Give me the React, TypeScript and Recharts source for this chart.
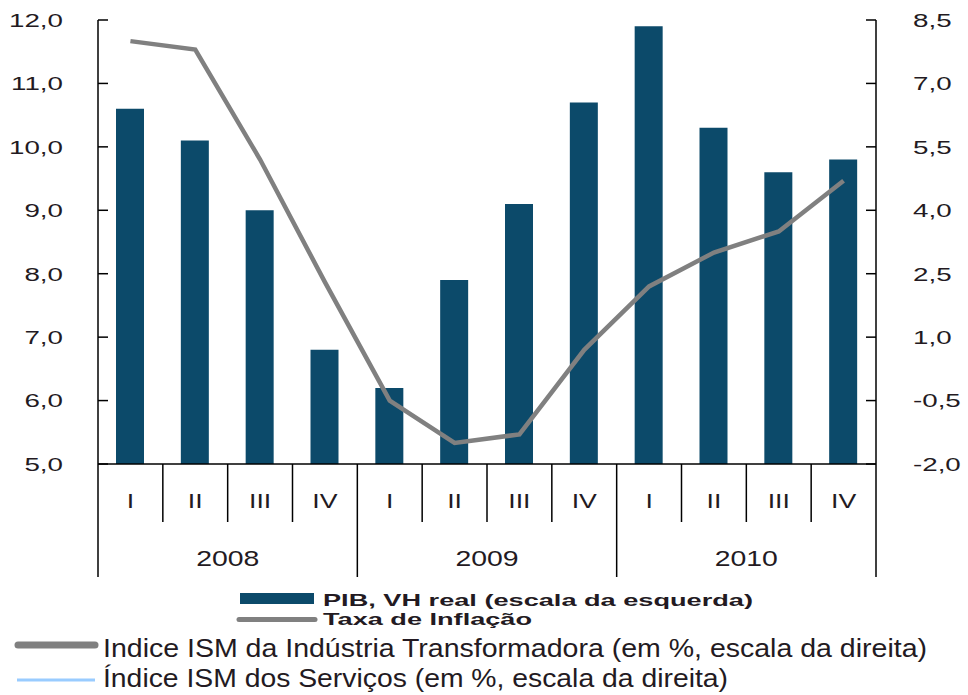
import React from 'react'
import {ComposedChart, Bar, Line, XAxis, YAxis, Legend} from 'recharts'

const quarters = ['I', 'II', 'III', 'IV', 'I', 'II', 'III', 'IV', 'I', 'II', 'III', 'IV']
const years = ['2008', '2009', '2010']
const pib = [10.6, 10.1, 9.0, 6.8, 6.2, 7.9, 9.1, 10.7, 11.9, 10.3, 9.6, 9.8]
const inflacao = [8.0, 7.8, 5.2, 2.3, -0.5, -1.5, -1.3, 0.7, 2.2, 3.0, 3.5, 4.7]
const leftTicks = [5, 6, 7, 8, 9, 10, 11, 12]
const rightTicks = [-2, -0.5, 1, 2.5, 4, 5.5, 7, 8.5]
const legendLabels = [
  'PIB, VH real (escala da esquerda)',
  'Taxa de Inflação',
  'Indice ISM da Indústria Transformadora (em %, escala da direita)',
  'Índice ISM dos Serviços (em %, escala da direita)',
]

const data = quarters.map((q, i) => ({
  key: years[Math.floor(i / 4)] + '-' + q,
  pib: pib[i],
  infl: inflacao[i],
}))

const W = 968
const H = 695
const LEFT_W = 98
const RIGHT_W = 92
const STEP = (W - LEFT_W - RIGHT_W) / quarters.length
const TEXT = '#231a22'
const BAR = '#0c4a6a'
const GREY = '#808080'
const FONT = '"Liberation Sans", Arial, sans-serif'
const NARROW = '"Liberation Sans Narrow", ' + FONT

const fmt = (v: number) => v.toFixed(1).replace('.', ',')

const LeftTick = (p: any) => (
  <g>
    <line x1={p.x} x2={p.x + 10} y1={p.y} y2={p.y} stroke="#000" strokeWidth={1.5} />
    <text transform={`translate(${p.x - 35},${p.y}) scale(1.46,1)`} textAnchor="end" dominantBaseline="central"
      fontSize={19} fontFamily={FONT} fill={TEXT}>{fmt(p.payload.value)}</text>
  </g>
)

const RightTick = (p: any) => (
  <g>
    <line x1={p.x - 10} x2={p.x} y1={p.y} y2={p.y} stroke="#000" strokeWidth={1.5} />
    <text transform={`translate(${p.x + 37},${p.y}) scale(1.46,1)`} textAnchor="start" dominantBaseline="central"
      fontSize={19} fontFamily={FONT} fill={TEXT}>{fmt(p.payload.value)}</text>
  </g>
)

const XTick = (p: any) => {
  const {x, y, index} = p
  const half = STEP / 2
  const first = index % 4 === 0
  return (
    <g>
      <line x1={x - half} x2={x - half} y1={y} y2={y + (first ? 113 : 58)} stroke="#000" strokeWidth={1.5} />
      {index === quarters.length - 1 && (
        <line x1={x + half} x2={x + half} y1={y} y2={y + 113} stroke="#000" strokeWidth={1.5} />
      )}
      <text transform={`translate(${x},${y + 37}) scale(1.27,1)`} textAnchor="middle" dominantBaseline="central"
        fontSize={21} fontFamily={FONT} fill={TEXT}>{quarters[index]}</text>
      {index % 4 === 1 && (
        <text transform={`translate(${x + half},${y + 94}) scale(1.29,1)`} textAnchor="middle" dominantBaseline="central"
          fontSize={22} fontFamily={FONT} fill={TEXT}>{years[Math.floor(index / 4)]}</text>
      )}
    </g>
  )
}

const LegendBox = () => (
  <svg width={W} height={110} style={{display: 'block'}}>
    <rect x={240} y={8} width={74} height={11} fill={BAR} />
    <text x={323} y={21} fontSize={16.5} fontWeight="bold" fontFamily={FONT} fill={TEXT}
      textLength={430} lengthAdjust="spacingAndGlyphs">{legendLabels[0]}</text>
    <line x1={239} x2={315} y1={34.5} y2={34.5} stroke={GREY} strokeWidth={5} strokeLinecap="round" />
    <text x={323} y={40} fontSize={16.5} fontWeight="bold" fontFamily={FONT} fill={TEXT}
      textLength={209} lengthAdjust="spacingAndGlyphs">{legendLabels[1]}</text>
    <line x1={18} x2={95} y1={60} y2={60} stroke={GREY} strokeWidth={7} strokeLinecap="round" />
    <text x={103} y={72} fontSize={25} fontFamily={NARROW} fill={TEXT}
      textLength={824} lengthAdjust="spacingAndGlyphs">{legendLabels[2]}</text>
    <line x1={17} x2={95} y1={95} y2={95} stroke="#99ccff" strokeWidth={3} />
    <text x={103} y={102} fontSize={25} fontFamily={NARROW} fill={TEXT}
      textLength={625} lengthAdjust="spacingAndGlyphs">{legendLabels[3]}</text>
  </svg>
)

export default function App() {
  return (
    <div style={{position: 'absolute', left: 0, top: 0, width: W, height: H, background: '#fff'}}>
      <ComposedChart width={W} height={H} data={data} margin={{top: 20, right: 0, left: 0, bottom: 118}}>
        <XAxis dataKey="key" interval={0} height={113} tickSize={0} tickMargin={0} tickLine={false}
          axisLine={{stroke: '#000', strokeWidth: 1.5}} tick={XTick} />
        <YAxis yAxisId="left" orientation="left" width={LEFT_W} domain={[5, 12]} ticks={leftTicks}
          tickSize={0} tickMargin={0} tickLine={false} axisLine={{stroke: '#000', strokeWidth: 1.5}} tick={LeftTick} />
        <YAxis yAxisId="right" orientation="right" width={RIGHT_W} domain={[-2, 8.5]} ticks={rightTicks}
          tickSize={0} tickMargin={0} tickLine={false} axisLine={{stroke: '#000', strokeWidth: 1.5}} tick={RightTick} />
        <Bar yAxisId="left" dataKey="pib" fill={BAR} barSize={28} isAnimationActive={false} />
        <Line yAxisId="right" dataKey="infl" type="linear" stroke={GREY} strokeWidth={4.5} dot={false}
          isAnimationActive={false} />
        <Legend verticalAlign="middle" align="center" layout="horizontal" content={LegendBox}
          wrapperStyle={{top: 585, left: 0, width: W, height: 110}} />
      </ComposedChart>
    </div>
  )
}
